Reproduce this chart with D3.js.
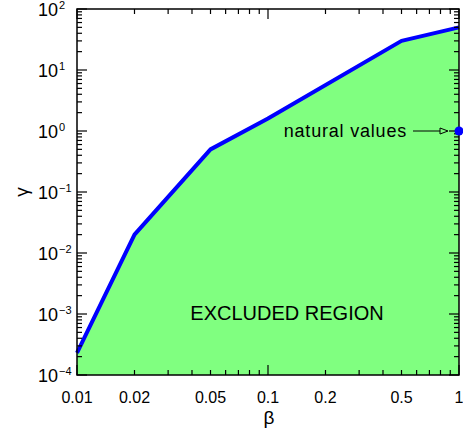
<!DOCTYPE html>
<html>
<head>
<meta charset="utf-8">
<script src="https://cdn.jsdelivr.net/npm/d3@7"></script>
<style>
  body { margin: 0; background: #fff; }
  svg text { font-family: "Liberation Sans", Arial, sans-serif; fill: #000; }
</style>
</head>
<body>
<script>
// boundary curve (beta, gamma)
var betaVals = [0.01, 0.02, 0.05, 0.1, 0.5, 1];
var gammaVals = [0.00023, 0.02, 0.5, 1.6, 30, 50];
// natural values point
var naturalBeta = [1];
var naturalGamma = [1];
// tick labels
var xTickVals = [0.01, 0.02, 0.05, 0.1, 0.2, 0.5, 1];
var xTickText = ["0.01", "0.02", "0.05", "0.1", "0.2", "0.5", "1"];
var yExponents = [-4, -3, -2, -1, 0, 1, 2];

(function(){

    var width = 463, height = 443;
    var padL = 77, padR = 459, padT = 9, padB = 375;

    var svg = d3.select("body").append("svg")
        .attr("width", width)
        .attr("height", height);

    var x = d3.scaleLog().domain([0.01, 1]).range([padL, padR]);
    var y = d3.scaleLog().domain([1e-4, 1e2]).range([padB, padT]);

    var pts = betaVals.map(function(b, i){ return [b, gammaVals[i]]; });

    // excluded region fill
    var area = d3.area()
        .x(function(d){ return x(d[0]); })
        .y0(padB)
        .y1(function(d){ return y(d[1]); });
    svg.append("path")
        .datum(pts)
        .attr("d", area)
        .attr("fill", "#80ff80");

    // boundary line
    var line = d3.line()
        .x(function(d){ return x(d[0]); })
        .y(function(d){ return y(d[1]); });
    svg.append("path")
        .datum(pts)
        .attr("d", line)
        .attr("fill", "none")
        .attr("stroke", "#0000ff")
        .attr("stroke-width", 4)
        .attr("stroke-linejoin", "round");

    // frame
    svg.append("rect")
        .attr("x", padL).attr("y", padT)
        .attr("width", padR - padL).attr("height", padB - padT)
        .attr("fill", "none")
        .attr("stroke", "#000")
        .attr("stroke-width", 1.5);

    // ticks (inward on all sides)
    var ticks = svg.append("g").attr("stroke", "#000").attr("stroke-width", 1.2);
    var xTicks = [];
    [0.01, 0.1].forEach(function(d){
        for (var k = 1; k <= 9; k++) xTicks.push({v: d * k, major: k === 1});
    });
    xTicks.push({v: 1, major: true});
    xTicks.forEach(function(t){
        var len = t.major ? 10 : 5;
        var px = x(t.v);
        ticks.append("line").attr("x1", px).attr("x2", px).attr("y1", padB).attr("y2", padB - len);
        ticks.append("line").attr("x1", px).attr("x2", px).attr("y1", padT).attr("y2", padT + len);
    });
    var yTicks = [];
    yExponents.forEach(function(e){
        for (var k = 1; k <= 9; k++) {
            var v = k * Math.pow(10, e);
            if (v <= 100) yTicks.push({v: v, major: k === 1});
        }
    });
    yTicks.forEach(function(t){
        var len = t.major ? 10 : 5;
        var py = y(t.v);
        ticks.append("line").attr("x1", padL).attr("x2", padL + len).attr("y1", py).attr("y2", py);
        ticks.append("line").attr("x1", padR).attr("x2", padR - len).attr("y1", py).attr("y2", py);
    });

    // x tick labels
    svg.selectAll(".xlab")
        .data(xTickVals)
        .enter()
        .append("text")
        .attr("class", "xlab")
        .attr("x", function(d){ return x(d); })
        .attr("y", 403)
        .attr("text-anchor", "middle")
        .style("font-size", "16px")
        .text(function(d, i){ return xTickText[i]; });

    // y tick labels 10^n
    var ylab = svg.selectAll(".ylab")
        .data(yExponents)
        .enter()
        .append("text")
        .attr("class", "ylab")
        .attr("x", 38)
        .attr("y", function(d){ return y(Math.pow(10, d)) + 7; })
        .style("font-size", "18px");
    ylab.append("tspan").text("10");
    ylab.append("tspan")
        .attr("dy", -7)
        .attr("dx", 1)
        .style("font-size", "11px")
        .text(function(d){ return d < 0 ? "\u2212" + (-d) : String(d); });

    // axis titles
    svg.append("text")
        .attr("x", x(0.1) + 1)
        .attr("y", 424)
        .attr("text-anchor", "middle")
        .style("font-size", "19px")
        .text("β");
    svg.append("text")
        .attr("transform", "translate(28," + y(0.1) + ") rotate(-90)")
        .attr("text-anchor", "middle")
        .style("font-size", "19px")
        .text("γ");

    // region label
    svg.append("text")
        .attr("x", 287)
        .attr("y", 320)
        .attr("text-anchor", "middle")
        .style("font-size", "20px")
        .text("EXCLUDED REGION");

    // natural values marker
    svg.selectAll(".nat")
        .data(naturalBeta)
        .enter()
        .append("circle")
        .attr("class", "nat")
        .attr("cx", function(d){ return x(d); })
        .attr("cy", function(d, i){ return y(naturalGamma[i]); })
        .attr("r", 4.5)
        .attr("fill", "#0000ff");

    svg.append("text")
        .attr("x", 407)
        .attr("y", y(1) + 6)
        .attr("text-anchor", "end")
        .style("font-size", "18px")
        .style("letter-spacing", "0.8px")
        .text("natural values");

    // arrow
    var ay = y(1);
    svg.append("line")
        .attr("x1", 413).attr("x2", 440)
        .attr("y1", ay).attr("y2", ay)
        .attr("stroke", "#000").attr("stroke-width", 1);
    svg.append("path")
        .attr("d", "M440," + (ay - 3) + "L448," + ay + "L440," + (ay + 3) + "Z")
        .attr("fill", "none")
        .attr("stroke", "#000")
        .attr("stroke-width", 1);

})();
</script>
</body>
</html>
